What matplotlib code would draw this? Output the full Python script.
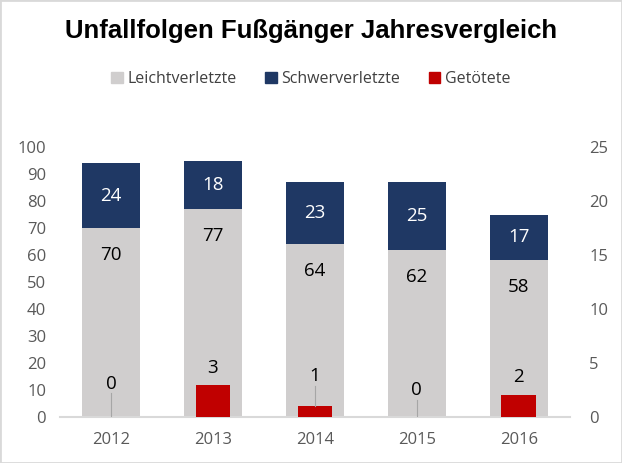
import numpy as np
import matplotlib.pyplot as plt
from matplotlib.patches import Rectangle, Patch

years = ['2012', '2013', '2014', '2015', '2016']
leicht = [70, 77, 64, 62, 58]
schwer = [24, 18, 23, 25, 17]
getoetet = [0, 3, 1, 0, 2]

C_LEICHT = '#d0cece'
C_SCHWER = '#1f3864'
C_TOT = '#c00000'
TICK_C = '#595959'

plt.rcParams['font.family'] = ['Open Sans', 'DejaVu Sans']

fig = plt.figure(figsize=(6.22, 4.63), dpi=100)
fig.patches.append(Rectangle((0, 0), 1, 1, transform=fig.transFigure, fill=False,
                             edgecolor='#d9d9d9', linewidth=2))

ax = fig.add_axes([0.0965, 0.0994, 0.8195, 0.583])
x = np.arange(len(years))
w = 0.57
ax.bar(x, leicht, w, color=C_LEICHT, zorder=1)
ax.bar(x, schwer, w, bottom=leicht, color=C_SCHWER, zorder=1)

for i in range(len(years)):
    ax.text(x[i], leicht[i] - 10, str(leicht[i]), ha='center', va='center', fontsize=13.5, color='black')
    ax.text(x[i], leicht[i] + schwer[i] / 2, str(schwer[i]), ha='center', va='center', fontsize=13.5, color='white')

ax.set_ylim(0, 100)
ax.set_xlim(-0.5, 4.5)
ax.set_yticks(range(0, 101, 10))
ax.set_xticks(x)
ax.set_xticklabels(years)
ax.tick_params(axis='both', length=0, colors=TICK_C, labelsize=12)
ax.tick_params(axis='y', pad=10)
ax.tick_params(axis='x', pad=11)
for s in ['top', 'right', 'left']:
    ax.spines[s].set_visible(False)
ax.spines['bottom'].set_color('#d9d9d9')
ax.spines['bottom'].set_linewidth(1.5)

ax2 = ax.twinx()
ax2.bar(x, getoetet, 0.34, color=C_TOT, zorder=2)
ax2.set_ylim(0, 25)
ax2.set_yticks(range(0, 26, 5))
ax2.tick_params(axis='y', length=0, colors=TICK_C, labelsize=12, pad=14)
for s in ax2.spines.values():
    s.set_visible(False)

label_y = [3.1, 4.5, 3.8, 2.5, 3.7]
for i in range(len(years)):
    ax2.text(x[i], label_y[i], str(getoetet[i]), ha='center', va='center', fontsize=13.5, color='black')
    if getoetet[i] < 2:
        ax2.plot([x[i], x[i]], [getoetet[i], label_y[i] - 0.9], color='#a6a6a6', linewidth=0.8)

ax.text(0.5, 0.932, 'Unfallfolgen Fußgänger Jahresvergleich', transform=fig.transFigure,
        ha='center', va='center', fontsize=18.5, fontweight='bold', family='Liberation Sans')

handles = [Patch(color=C_LEICHT), Patch(color=C_SCHWER), Patch(color=C_TOT)]
fig.legend(handles, ['Leichtverletzte', 'Schwerverletzte', 'Getötete'], loc='center',
           bbox_to_anchor=(0.5, 0.83), ncol=3, frameon=False, fontsize=11.5,
           handlelength=0.7, handleheight=0.7, handletextpad=0.3, columnspacing=1.8,
           labelcolor='#404040')

fig.savefig('out.png', dpi=100)
